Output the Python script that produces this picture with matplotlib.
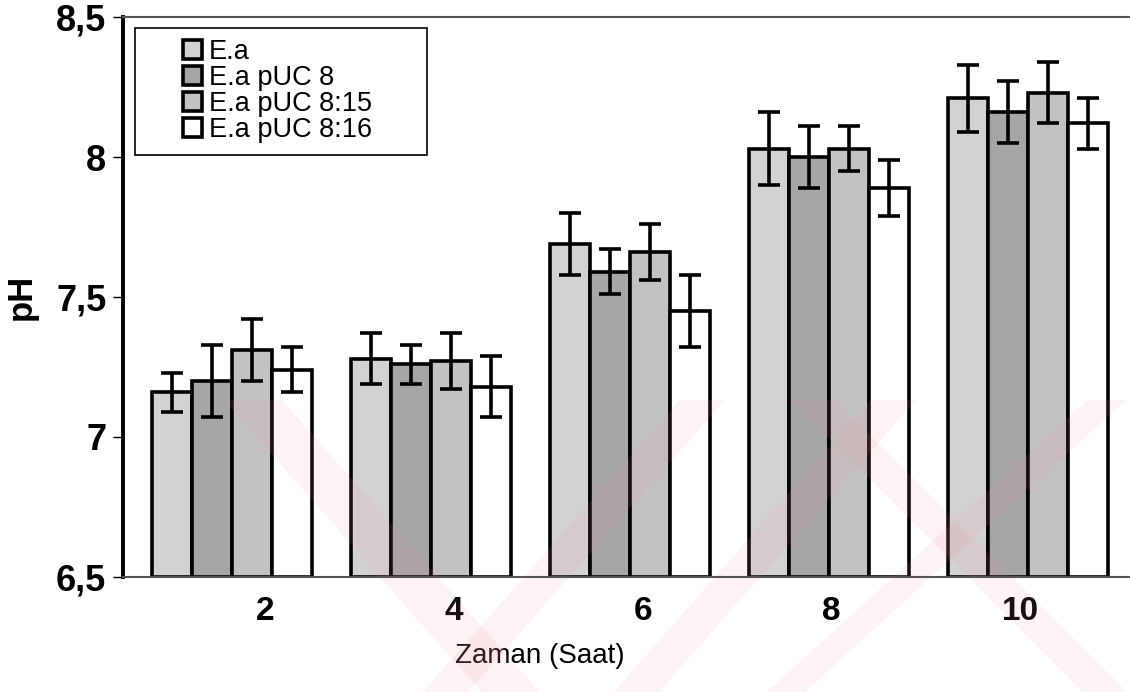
import matplotlib
matplotlib.use('Agg')
import matplotlib.pyplot as plt
from matplotlib.patches import Rectangle, Polygon
import numpy as np

# ---- data ----
times = ['2', '4', '6', '8', '10']
series = ['E.a', 'E.a pUC 8', 'E.a pUC 8:15', 'E.a pUC 8:16']
ea = [7.16, 7.28, 7.69, 8.03, 8.21]
ea_err = [0.07, 0.09, 0.11, 0.13, 0.12]
puc8 = [7.20, 7.26, 7.59, 8.00, 8.16]
puc8_err = [0.13, 0.07, 0.08, 0.11, 0.11]
puc815 = [7.31, 7.27, 7.66, 8.03, 8.23]
puc815_err = [0.11, 0.10, 0.10, 0.08, 0.11]
puc816 = [7.24, 7.18, 7.45, 7.89, 8.12]
puc816_err = [0.08, 0.11, 0.13, 0.10, 0.09]
yticks = [6.5, 7, 7.5, 8, 8.5]
ytick_labels = ['6,5', '7', '7,5', '8', '8,5']

values = [ea, puc8, puc815, puc816]
errors = [ea_err, puc8_err, puc815_err, puc816_err]
colors = ['#d2d2d2', '#a6a6a6', '#c2c2c2', '#ffffff']

W, H = 1130, 692
fig = plt.figure(figsize=(W / 100, H / 100), dpi=100)
ax = fig.add_axes([0.1088, 0.1662, 0.8912, 0.8092])

x = np.arange(len(times))
w = 0.2
for i, (vals, errs, c, lab) in enumerate(zip(values, errors, colors, series)):
    pos = x + (i - 1.5) * w
    ax.bar(pos, np.array(vals) - 6.5, bottom=6.5, width=w, color=c,
           edgecolor='black', linewidth=2.6, label=lab, zorder=2)
    ax.errorbar(pos, vals, yerr=errs, fmt='none', ecolor='black',
                elinewidth=2.6, capsize=8, capthick=2.6, zorder=3)

ax.set_xlim(-0.548, 4.512)
ax.set_ylim(6.5, 8.5)
ax.set_yticks(yticks)
ax.set_yticklabels(ytick_labels)
# tick labels in the original sit slightly off the group centres
ax.set_xticks(0.166 + x * 0.949)
ax.set_xticklabels(times)

for lbl in ax.get_yticklabels() + ax.get_xticklabels():
    lbl.set_fontfamily('Liberation Sans')
    lbl.set_fontweight('bold')
for lbl in ax.get_yticklabels():
    lbl.set_fontsize(26)
for lbl in ax.get_xticklabels():
    lbl.set_fontsize(24)

ax.tick_params(axis='y', length=7, width=1, direction='out', pad=5)
ax.tick_params(axis='x', length=0, pad=14)

ax.spines['left'].set_linewidth(2.8)
ax.spines['left'].set_color('black')
for s in ['top', 'bottom']:
    ax.spines[s].set_linewidth(1.5)
    ax.spines[s].set_color('#555555')
    ax.spines[s].set_linestyle((0, (1, 1)))
ax.spines['right'].set_visible(False)

ax.set_xlabel('Zaman (Saat)', fontsize=20, family='Liberation Sans')
ax.xaxis.set_label_coords(0.414, -0.118)
ax.set_ylabel('pH', fontsize=25, family='Liberation Sans', fontweight='bold')
ax.yaxis.set_label_coords(-0.085, 0.5)

# legend box
ax.add_patch(Rectangle((0.012, 0.753), 0.29, 0.227, transform=ax.transAxes,
                       facecolor='white', edgecolor='black', linewidth=1.2, zorder=4))
leg = ax.legend(loc='upper left', bbox_to_anchor=(0.06, 0.96), frameon=False,
                prop={'family': 'Liberation Sans', 'size': 19.5},
                handlelength=0.7, handleheight=0.7, handletextpad=0.25,
                labelspacing=0.0, borderaxespad=0, borderpad=0.0)
leg.set_zorder(5)

# faint pink scanned watermark (diagonal bands), drawn as a light tint
def band(x_at_560, slope, y0=400, y1=692):
    xa, xb = x_at_560
    pts = []
    for (xx, yy) in [(xa + slope * (y0 - 560), y0), (xb + slope * (y0 - 560), y0),
                     (xb + slope * (y1 - 560), y1), (xa + slope * (y1 - 560), y1)]:
        pts.append((xx / W, 1 - yy / H))
    ax.add_patch(Polygon(pts, closed=True, transform=fig.transFigure, clip_on=False,
                         facecolor='#ee8f9c', edgecolor='none', alpha=0.11, zorder=2.4))

band((365, 423), 0.88)
band((539, 584), -0.88)
band((730, 775), -0.88)
band((912, 950), -1.1)
band((951, 995), 1.0)

fig.savefig('out.png', dpi=100)
